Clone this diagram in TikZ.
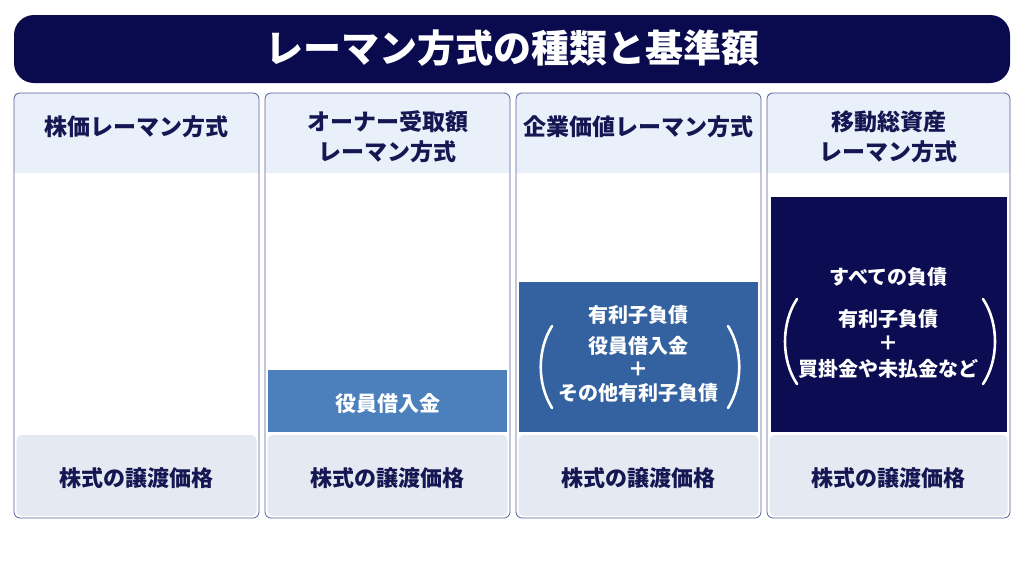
\documentclass[tikz,border=0pt]{standalone}
\usepackage{fontspec}
\setmainfont{Noto Sans CJK JP}
\definecolor{navy}{HTML}{0A0B4E}
\definecolor{txtnavy}{HTML}{151752}
\definecolor{hdrfill}{HTML}{EAF0FA}
\definecolor{botfill}{HTML}{E5E9F1}
\definecolor{colborder}{HTML}{5C5E9E}
\definecolor{boxA}{HTML}{4B80BD}
\definecolor{boxB}{HTML}{3462A0}
\definecolor{boxC}{HTML}{0B0C52}
\begin{document}
\begin{tikzpicture}[x=1pt,y=-1pt,
  hdr/.style={font=\fontsize{23}{30}\selectfont\bfseries, text=txtnavy, align=center},
  bot/.style={font=\fontsize{22}{26}\selectfont\bfseries, text=txtnavy},
  wtxt/.style={font=\fontsize{20}{24}\selectfont\bfseries, text=white, align=center, inner sep=0pt},
  paren/.style={draw=white, line width=2.6pt, line cap=round},
  colframe/.style={draw=colborder, line width=0.8pt, rounded corners=6pt}]
\useasboundingbox (0,0) rectangle (1024,568);
\fill[white] (0,0) rectangle (1024,568);
% title
\fill[navy, rounded corners=20pt] (14,15) rectangle (1010,83);
\node[font=\fontsize{38}{42}\selectfont\bfseries, text=white] (title) at (512,48) {レーマン方式の種類と基準額};
% columns
\foreach \xa/\xb/\n in {14/259/1,265/510/2,516/761/3,767/1010/4}{
  \fill[white, rounded corners=6pt] (\xa,93) rectangle (\xb,518);
  \fill[hdrfill, rounded corners=6pt] (\xa,93) -- (\xb,93) -- (\xb,173) [sharp corners] -- (\xa,173) -- cycle;
  \fill[hdrfill] (\xa,110) rectangle (\xb,173);
  \fill[botfill, rounded corners=5pt] (\xa+2.5,435) rectangle (\xb-2.5,516);
  \draw[colframe] (\xa,93) rectangle (\xb,518);
  \node[bot] (bot\n) at ({(\xa+\xb)/2},478) {株式の譲渡価格};
}
% headers
\node[hdr] (h1) at (136.5,127) {株価レーマン方式};
\node[hdr] (h2) at (387.5,137) {オーナー受取額\\レーマン方式};
\node[hdr] (h3) at (638.5,127) {企業価値レーマン方式};
\node[hdr] (h4) at (888.5,137) {移動総資産\\レーマン方式};
% column 2 box
\fill[boxA] (268,370) rectangle (507,432);
\node[wtxt, font=\fontsize{21}{24}\selectfont\bfseries] (b2) at (387.5,404) {役員借入金};
% column 3 box
\fill[boxB] (519,282) rectangle (758,432);
\node[wtxt] (c3a) at (638.5,315) {有利子負債};
\node[wtxt] (c3b) at (638.5,346) {役員借入金};
\node[wtxt] (c3c) at (638.5,369) {＋};
\node[wtxt] (c3d) at (638.5,393) {その他有利子負債};
\draw[paren] (552,326) .. controls (537,350) and (537,384) .. (552,408);
\draw[paren] (728,326) .. controls (743,350) and (743,384) .. (728,408);
% column 4 box
\fill[boxC] (771,197) rectangle (1007,432);
\node[wtxt] (c4a) at (888.5,277) {すべての負債};
\node[wtxt] (c4b) at (888.5,319) {有利子負債};
\node[wtxt] (c4c) at (888.5,343) {＋};
\node[wtxt] (c4d) at (888.5,369) {買掛金や未払金など};
\draw[paren] (797,299) .. controls (781,323) and (781,360) .. (797,384);
\draw[paren] (983,299) .. controls (999,323) and (999,360) .. (983,384);
\end{tikzpicture}
\end{document}
